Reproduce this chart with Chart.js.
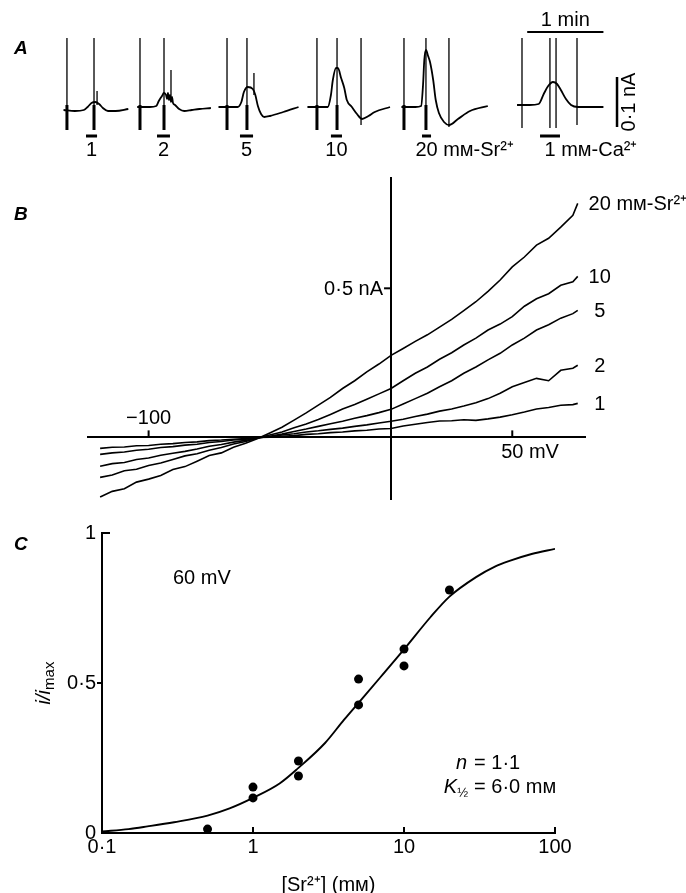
<!DOCTYPE html>
<html>
<head>
<meta charset="utf-8">
<title>Sr2+ currents</title>
<script src="https://cdn.jsdelivr.net/npm/chart.js@4.4.1/dist/chart.umd.min.js"></script>
<style>
  body { margin: 0; background: #fff; }
  canvas { position: absolute; left: 0; }
</style>
</head>
<body>
<canvas id="panelA" width="686" height="170" style="top:0px"></canvas>
<canvas id="panelB" width="686" height="330" style="top:170px"></canvas>
<canvas id="panelC" width="686" height="393" style="top:500px"></canvas>
<script>
// ---------- A: current records (time along the record in s, current in nA) ----------
const recLabels = ["1", "2", "5", "10", "20 mᴍ-Sr²⁺", "1 mᴍ-Ca²⁺"];
const recTime = [
  [50, 59, 66, 69, 72, 75, 78, 81, 85, 91, 101],
  [108, 118, 123, 125, 127.5, 129, 130.7, 131.5, 132.2, 133, 133.8, 134.6, 135.4, 136.2, 137.8, 141, 145, 151, 157, 166],
  [172, 181, 187, 190, 192, 195, 199, 201, 203, 205.5, 208, 212.5, 223, 235],
  [242, 252, 258, 260.5, 262, 264.5, 266, 268.5, 271, 273, 277, 281, 285, 290, 295, 307],
  [316, 327, 331.5, 333, 334, 335.3, 337, 338.5, 341, 343, 345.5, 349.5, 353.5, 360.5, 370, 384],
  [407, 417, 424, 428, 431.5, 435.3, 438.5, 441.5, 445.5, 449.5, 455, 464, 475]
];
const recCurrent = [
  [0, -0.002, 0, 0.006, 0.014, 0.016, 0.012, 0.004, -0.002, -0.002, 0.002],
  [0.006, 0.006, 0.008, 0.018, 0.028, 0.034, 0.030, 0.022, 0.034, 0.020, 0.030, 0.016, 0.026, 0.014, 0.010, 0.002, -0.002, 0, 0.002, 0.004],
  [0.006, 0.006, 0.006, 0.016, 0.036, 0.046, 0.042, 0.030, 0.008, -0.008, -0.014, -0.012, -0.004, 0.006],
  [0.006, 0.006, 0.006, 0.030, 0.060, 0.084, 0.084, 0.064, 0.044, 0.020, 0.006, -0.008, -0.018, -0.012, -0.004, 0.006],
  [0.006, 0.006, 0.008, 0.050, 0.100, 0.120, 0.108, 0.096, 0.060, 0.020, -0.006, -0.024, -0.030, -0.018, -0.002, 0.008],
  [0.010, 0.010, 0.012, 0.032, 0.048, 0.056, 0.052, 0.040, 0.022, 0.010, 0.006, 0.006, 0.006]
];
// voltage-ramp artefacts
const spikeTime = [52.7, 74.0, 76.4, 110.2, 129.1, 134.6, 178.7, 194.4, 199.9, 249.5, 265.3, 284.2, 318.0, 335.3, 353.4, 410.9, 432.9, 437.7, 454.2];
const spikeTop = [0.144, 0.144, 0.038, 0.144, 0.144, 0.080, 0.144, 0.144, 0.074, 0.144, 0.144, 0.144, 0.144, 0.144, 0.144, 0.144, 0.144, 0.144, 0.144];
const spikeBottom = [-0.04, -0.04, 0.01, -0.04, -0.04, 0.02, -0.04, -0.04, 0.03, -0.04, -0.04, -0.03, -0.04, -0.04, -0.034, -0.036, -0.036, -0.036, -0.030];
// application bars
const barStart = [67.7, 123.6, 188.9, 260.5, 332.2, 425.1];
const barEnd = [76.4, 133.8, 199.2, 269.2, 339.3, 440.8];
const barLevel = -0.052;
const minuteBar = [415, 475];
const minuteLevel = 0.156;
const scaleBarTime = 485.7;
const scaleBarFrom = -0.034;

// ---------- B: current-voltage curves (mV, nA) ----------
const ivVoltage = [-120, -115, -110, -105, -100, -95, -90, -85, -80, -75, -70, -65, -60, -55, -50, -45, -40, -35, -30, -25, -20, -15, -10, -5, 0, 5, 10, 15, 20, 25, 30, 35, 40, 45, 50, 55, 60, 65, 70, 75, 77];
const iv1 = [-0.037, -0.033, -0.032, -0.028, -0.027, -0.023, -0.021, -0.017, -0.015, -0.011, -0.009, -0.006, -0.004, 0.000, 0.001, 0.004, 0.006, 0.010, 0.012, 0.016, 0.018, 0.022, 0.024, 0.028, 0.030, 0.038, 0.044, 0.050, 0.055, 0.056, 0.059, 0.057, 0.062, 0.068, 0.076, 0.085, 0.095, 0.100, 0.108, 0.110, 0.114];
const iv2 = [-0.057, -0.052, -0.049, -0.043, -0.040, -0.034, -0.031, -0.026, -0.023, -0.017, -0.014, -0.009, -0.006, -0.001, 0.002, 0.008, 0.012, 0.018, 0.022, 0.027, 0.031, 0.037, 0.042, 0.048, 0.054, 0.061, 0.070, 0.078, 0.088, 0.095, 0.105, 0.116, 0.130, 0.148, 0.170, 0.184, 0.198, 0.190, 0.225, 0.232, 0.242];
const iv5 = [-0.097, -0.088, -0.084, -0.074, -0.069, -0.060, -0.053, -0.047, -0.039, -0.030, -0.024, -0.016, -0.010, -0.002, 0.004, 0.011, 0.020, 0.028, 0.037, 0.046, 0.054, 0.064, 0.073, 0.083, 0.094, 0.112, 0.130, 0.148, 0.170, 0.190, 0.215, 0.236, 0.260, 0.282, 0.310, 0.333, 0.360, 0.378, 0.400, 0.415, 0.426];
const iv10 = [-0.134, -0.126, -0.112, -0.107, -0.094, -0.086, -0.074, -0.062, -0.055, -0.043, -0.034, -0.022, -0.014, -0.002, 0.008, 0.018, 0.032, 0.045, 0.060, 0.077, 0.095, 0.110, 0.128, 0.146, 0.164, 0.190, 0.215, 0.236, 0.262, 0.284, 0.310, 0.333, 0.360, 0.380, 0.405, 0.440, 0.465, 0.482, 0.510, 0.522, 0.540];
const iv20 = [-0.200, -0.181, -0.172, -0.150, -0.140, -0.128, -0.108, -0.098, -0.080, -0.061, -0.052, -0.033, -0.020, -0.004, 0.015, 0.034, 0.058, 0.082, 0.108, 0.134, 0.164, 0.190, 0.220, 0.246, 0.275, 0.298, 0.322, 0.344, 0.370, 0.396, 0.425, 0.455, 0.490, 0.528, 0.572, 0.605, 0.645, 0.668, 0.705, 0.745, 0.785];
const ivLabels = ["1", "2", "5", "10", "20 mᴍ-Sr²⁺"];
const ivTicksX = [-100, 50];
const ivTickLabelsX = ["−100", "50 mV"];
const ivTicksY = [0.5];
const ivTickLabelsY = ["0·5 nA"];

// ---------- C: dose-response at 60 mV ----------
const doseConc = [0.5, 1, 1, 2, 2, 5, 5, 10, 10, 20];
const doseRel = [0.013, 0.153, 0.117, 0.24, 0.19, 0.513, 0.427, 0.613, 0.557, 0.81];
const fitConc = [0.1, 0.15, 0.2, 0.3, 0.5, 0.7, 1, 1.5, 2, 3, 4, 5, 7, 10, 15, 20, 30, 40, 50, 70, 100];
const fitRel = [0.005, 0.013, 0.022, 0.036, 0.058, 0.082, 0.117, 0.165, 0.217, 0.3, 0.377, 0.434, 0.52, 0.612, 0.72, 0.788, 0.853, 0.888, 0.907, 0.93, 0.947];
const concTicks = [0.1, 1, 10, 100];
const concTickLabels = ["0·1", "1", "10", "100"];
const relTicks = [0, 0.5, 1];
const relTickLabels = ["0", "0·5", "1"];

const FONT = "'Liberation Sans', Arial, sans-serif";
Chart.defaults.font.family = FONT;
Chart.defaults.font.size = 20;
Chart.defaults.color = "#000";

const base = {
  animation: false,
  responsive: false,
  devicePixelRatio: 1,
  events: [],
  plugins: { legend: { display: false }, tooltip: { enabled: false } },
};

function drawRuns(ctx, runs, x, y, align) {
  let w = 0;
  runs.forEach((r) => { ctx.font = r.f; w += ctx.measureText(r.t).width; });
  let cx = align === "center" ? x - w / 2 : align === "right" ? x - w : x;
  ctx.textAlign = "left";
  runs.forEach((r) => {
    ctx.font = r.f;
    ctx.fillText(r.t, cx, y + (r.dy || 0));
    cx += ctx.measureText(r.t).width;
  });
}

// number centred on x, unit (if any) trailing after it
function numLabel(ctx, label, x, y) {
  ctx.font = "20px " + FONT;
  const sp = label.indexOf(" ");
  const num = sp < 0 ? label : label.slice(0, sp);
  const w = ctx.measureText(num).width;
  ctx.textAlign = "center";
  ctx.fillText(num, x, y);
  if (sp >= 0) {
    ctx.textAlign = "left";
    ctx.fillText(label.slice(sp), x + w / 2, y);
  }
}

function panelLetter(ctx, s, x, y) {
  ctx.font = "bold italic 19px " + FONT;
  ctx.textAlign = "left";
  ctx.textBaseline = "middle";
  ctx.fillText(s, x, y);
}

const line = (data, width, extra) => Object.assign({
  data, borderColor: "#000", borderWidth: width, pointRadius: 0, spanGaps: false, tension: 0,
}, extra || {});

// ---------- panel A ----------
const traceSets = recTime.map((ts, k) =>
  line(ts.map((t, j) => ({ x: t, y: recCurrent[k][j] })), 1.8, { cubicInterpolationMode: "monotone" }));
const spikePts = [];
const footPts = [];
spikeTime.forEach((t, k) => {
  spikePts.push({ x: t, y: spikeTop[k] }, { x: t, y: spikeBottom[k] }, { x: t, y: null });
  if (spikeBottom[k] <= -0.04) footPts.push({ x: t, y: 0.01 }, { x: t, y: spikeBottom[k] }, { x: t, y: null });
});
const barPts = [];
barStart.forEach((s, k) => barPts.push({ x: s, y: barLevel }, { x: barEnd[k], y: barLevel }, { x: barEnd[k], y: null }));

new Chart(document.getElementById("panelA"), {
  type: "line",
  data: {
    datasets: traceSets.concat([
      line(spikePts, 1.3),
      line(footPts, 3),
      line(barPts, 3),
      line([{ x: minuteBar[0], y: minuteLevel }, { x: minuteBar[1], y: minuteLevel }], 2),
      line([{ x: scaleBarTime, y: scaleBarFrom }, { x: scaleBarTime, y: scaleBarFrom + 0.1 }], 2.5),
    ]),
  },
  options: Object.assign({}, base, {
    scales: {
      x: { type: "linear", min: 0, max: 540, display: false },
      y: { min: -0.12, max: 0.22, display: false },
    },
  }),
  plugins: [{
    id: "labelsA",
    afterDatasetsDraw(chart) {
      const { ctx, scales: { x, y } } = chart;
      ctx.save();
      ctx.fillStyle = "#000";
      ctx.textBaseline = "middle";
      recLabels.forEach((lab, k) => {
        numLabel(ctx, lab, x.getPixelForValue((barStart[k] + barEnd[k]) / 2), y.getPixelForValue(-0.08));
      });
      ctx.font = "20px " + FONT;
      ctx.textAlign = "center";
      ctx.fillText("1 min", x.getPixelForValue((minuteBar[0] + minuteBar[1]) / 2), y.getPixelForValue(0.18));
      ctx.save();
      ctx.translate(x.getPixelForValue(scaleBarTime + 10), y.getPixelForValue(scaleBarFrom + 0.05));
      ctx.rotate(-Math.PI / 2);
      ctx.fillText("0·1 nA", 0, 0);
      ctx.restore();
      panelLetter(ctx, "A", 14, 49);
      ctx.restore();
    },
  }],
});

// ---------- panel B ----------
const ivCurves = [iv1, iv2, iv5, iv10, iv20];
new Chart(document.getElementById("panelB"), {
  type: "line",
  data: {
    datasets: ivCurves.map((c) => line(ivVoltage.map((v, j) => ({ x: v, y: c[j] })), 1.6)),
  },
  options: Object.assign({}, base, {
    layout: { padding: { left: 88, right: 101, top: 8, bottom: 0 } },
    scales: {
      x: {
        type: "linear", min: -125, max: 80, position: { y: 0 },
        grid: { display: false, drawTicks: false }, ticks: { display: false },
        border: { display: true, width: 2, color: "#000" },
        afterFit: (s) => { s.height = 0; },
      },
      y: {
        min: -0.21, max: 0.87, position: { x: 0 },
        grid: { display: false, drawTicks: false }, ticks: { display: false },
        border: { display: true, width: 2, color: "#000" },
        afterFit: (s) => { s.width = 0; },
      },
    },
  }),
  plugins: [{
    id: "labelsB",
    afterDatasetsDraw(chart) {
      const { ctx, scales: { x, y } } = chart;
      const x0 = x.getPixelForValue(0);
      const y0 = y.getPixelForValue(0);
      ctx.save();
      ctx.fillStyle = "#000";
      ctx.strokeStyle = "#000";
      ctx.lineWidth = 2;
      ivTicksX.forEach((v, k) => {
        const px = x.getPixelForValue(v);
        ctx.beginPath(); ctx.moveTo(px, y0); ctx.lineTo(px, y0 - 7); ctx.stroke();
        ctx.textBaseline = "alphabetic";
        numLabel(ctx, ivTickLabelsX[k], px, v < 0 ? y0 - 13 : y0 + 21);
      });
      ivTicksY.forEach((v, k) => {
        const py = y.getPixelForValue(v);
        ctx.beginPath(); ctx.moveTo(x0, py); ctx.lineTo(x0 - 7, py); ctx.stroke();
        ctx.font = "20px " + FONT;
        ctx.textAlign = "right";
        ctx.textBaseline = "middle";
        ctx.fillText(ivTickLabelsY[k], x0 - 8, py + 1);
      });
      ctx.textBaseline = "middle";
      ivCurves.forEach((c, k) => {
        const n = c.length - 1;
        numLabel(ctx, ivLabels[k], x.getPixelForValue(ivVoltage[n]) + 22, y.getPixelForValue(c[n]) + 1);
      });
      panelLetter(ctx, "B", 14, 45);
      ctx.restore();
    },
  }],
});

// ---------- panel C ----------
new Chart(document.getElementById("panelC"), {
  type: "line",
  data: {
    datasets: [
      line(fitConc.map((c, j) => ({ x: c, y: fitRel[j] })), 1.9, { cubicInterpolationMode: "monotone" }),
      {
        data: doseConc.map((c, j) => ({ x: c, y: doseRel[j] })),
        showLine: false, pointRadius: 4.5, pointBorderWidth: 0,
        pointBackgroundColor: "#000", borderColor: "#000",
      },
    ],
  },
  options: Object.assign({}, base, {
    layout: { padding: { left: 0, right: 131, top: 33, bottom: 0 } },
    scales: {
      x: {
        type: "logarithmic", min: 0.1, max: 100,
        grid: { display: false, drawTicks: false },
        border: { display: true, width: 2, color: "#000" },
        afterBuildTicks: (s) => { s.ticks = concTicks.map((v) => ({ value: v })); },
        ticks: { padding: 2, maxRotation: 0, autoSkip: false, callback: (v, i) => concTickLabels[i] },
        title: { display: true, text: "[Sr²⁺] (mᴍ)", padding: { top: 14, bottom: -4 } },
        afterFit: (s) => { s.height = 60; },
      },
      y: {
        min: 0, max: 1,
        grid: { display: false, drawTicks: false },
        border: { display: true, width: 2, color: "#000" },
        afterBuildTicks: (s) => { s.ticks = relTicks.map((v) => ({ value: v })); },
        ticks: { padding: 6, callback: (v, i) => relTickLabels[i] },
        afterFit: (s) => { s.width = 102; },
      },
    },
  }),
  plugins: [{
    id: "labelsC",
    afterDatasetsDraw(chart) {
      const { ctx, scales: { x, y } } = chart;
      const xa = x.getPixelForValue(0.1);
      const ya = y.getPixelForValue(0);
      ctx.save();
      ctx.fillStyle = "#000";
      ctx.strokeStyle = "#000";
      ctx.lineWidth = 2;
      concTicks.slice(1).forEach((v) => {
        const px = x.getPixelForValue(v);
        ctx.beginPath(); ctx.moveTo(px, ya); ctx.lineTo(px, ya - 6); ctx.stroke();
      });
      let py = y.getPixelForValue(0.5);
      ctx.beginPath(); ctx.moveTo(xa, py); ctx.lineTo(xa - 5, py); ctx.stroke();
      py = y.getPixelForValue(1);
      ctx.beginPath(); ctx.moveTo(xa, py); ctx.lineTo(xa + 8, py); ctx.stroke();

      ctx.textBaseline = "middle";
      // y title, reads bottom to top
      ctx.save();
      ctx.translate(44, y.getPixelForValue(0.5));
      ctx.rotate(-Math.PI / 2);
      drawRuns(ctx, [
        { t: "i/i", f: "italic 20px " + FONT },
        { t: "max", f: "15px " + FONT, dy: 6 },
      ], 0, 0, "center");
      ctx.restore();

      ctx.font = "20px " + FONT;
      ctx.textAlign = "left";
      ctx.fillText("60 mV", x.getPixelForValue(0.295), y.getPixelForValue(0.85));

      const ex = x.getPixelForValue(31.4);
      drawRuns(ctx, [{ t: "n", f: "italic 20px " + FONT }], ex - 12, y.getPixelForValue(0.233), "right");
      drawRuns(ctx, [{ t: "= 1·1", f: "20px " + FONT }], ex - 5, y.getPixelForValue(0.233), "left");
      drawRuns(ctx, [
        { t: "K", f: "italic 20px " + FONT },
        { t: "½", f: "13px " + FONT, dy: 6 },
      ], ex - 11, y.getPixelForValue(0.153), "right");
      drawRuns(ctx, [{ t: "= 6·0 mᴍ", f: "20px " + FONT }], ex - 5, y.getPixelForValue(0.153), "left");

      panelLetter(ctx, "C", 14, 45);
      ctx.restore();
    },
  }],
});
</script>
</body>
</html>
